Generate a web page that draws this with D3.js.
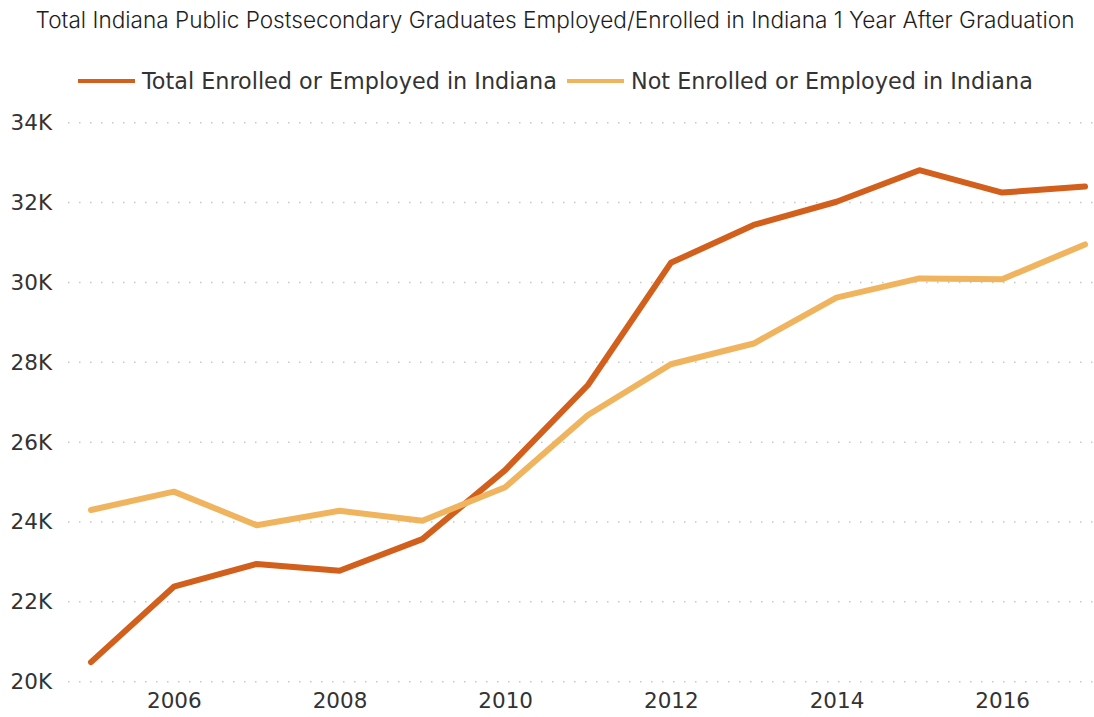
<!DOCTYPE html>
<html>
<head>
<meta charset="utf-8">
<script src="https://cdn.jsdelivr.net/npm/d3@7"></script>
<style>
  body { margin: 0; background: #fff; }
  .axis text { font-family: "DejaVu Sans", Verdana, sans-serif; fill: #333; }
  .axis .domain { display: none; }
</style>
</head>
<body>
<div class="canvas"></div>
<script>
const years = [2005, 2006, 2007, 2008, 2009, 2010, 2011, 2012, 2013, 2014, 2015, 2016, 2017];
const enrolled = [20490, 22380, 22950, 22780, 23570, 25300, 27430, 30490, 31440, 32020, 32810, 32250, 32400];
const notEnrolled = [24300, 24760, 23920, 24280, 24030, 24870, 26680, 27950, 28470, 29620, 30100, 30080, 30950];
const yTicks = [20000, 22000, 24000, 26000, 28000, 30000, 32000, 34000];
const xTicks = [2006, 2008, 2010, 2012, 2014, 2016];
const seriesNames = ["Total Enrolled or Employed in Indiana", "Not Enrolled or Employed in Indiana"];
const colors = ["#d35f1c", "#f0b45e"];

const width = 1094;
const height = 717;

const svg = d3
  .select(".canvas")
  .append("svg")
  .attr("width", width)
  .attr("height", height);

const x = d3.scaleLinear().domain([2005, 2017]).range([91, 1085]);
const y = d3.scaleLinear().domain([20000, 34000]).range([681.7, 122.7]);

// title
svg
  .append("text")
  .attr("x", 555)
  .attr("y", 28)
  .attr("text-anchor", "middle")
  .style("font-family", "Inter, sans-serif")
  .style("font-weight", 300)
  .style("font-size", "22.6px")
  .style("letter-spacing", "0px")
  .style("fill", "#1e1e1e")
  .text("Total Indiana Public Postsecondary Graduates Employed/Enrolled in Indiana 1 Year After Graduation");

// legend
const legendX = [78, 567];
seriesNames.forEach((name, i) => {
  const g = svg.append("g").attr("transform", `translate(${legendX[i]}, 81)`);
  g.append("line")
    .attr("x1", 0)
    .attr("x2", 57)
    .attr("stroke", colors[i])
    .attr("stroke-width", 4);
  g.append("text")
    .attr("x", 64)
    .attr("y", 8)
    .style("font-family", "DejaVu Sans, Verdana, sans-serif")
    .style("font-size", "22.3px")
    .style("fill", "#333")
    .text(name);
});

// horizontal gridlines
svg
  .selectAll(".yGrid")
  .data(yTicks)
  .join("line")
  .attr("class", "yGrid")
  .attr("x1", 68)
  .attr("x2", width)
  .attr("y1", (d) => y(d))
  .attr("y2", (d) => y(d))
  .attr("stroke", "#c8c8c8")
  .attr("stroke-width", 1.5)
  .attr("stroke-dasharray", "1.5,9.5");

// axes
svg
  .append("g")
  .attr("class", "axis")
  .attr("transform", "translate(60,0)")
  .call(d3.axisLeft(y).tickValues(yTicks).tickSize(0).tickPadding(8).tickFormat((d) => `${d / 1000}K`))
  .selectAll("text")
  .style("font-size", "21.5px");

svg
  .append("g")
  .attr("class", "axis")
  .attr("transform", `translate(0, ${y(20000)})`)
  .call(d3.axisBottom(x).tickValues(xTicks).tickSize(0).tickPadding(11).tickFormat(d3.format("d")))
  .selectAll("text")
  .style("font-size", "21.5px");

// lines
const line = d3
  .line()
  .x((d, i) => x(years[i]))
  .y((d) => y(d));

[enrolled, notEnrolled].forEach((vals, i) => {
  svg
    .append("path")
    .datum(vals)
    .attr("d", line)
    .attr("fill", "none")
    .attr("stroke", colors[i])
    .attr("stroke-width", 6)
    .attr("stroke-linejoin", "round")
    .attr("stroke-linecap", "round");
});
</script>
</body>
</html>
